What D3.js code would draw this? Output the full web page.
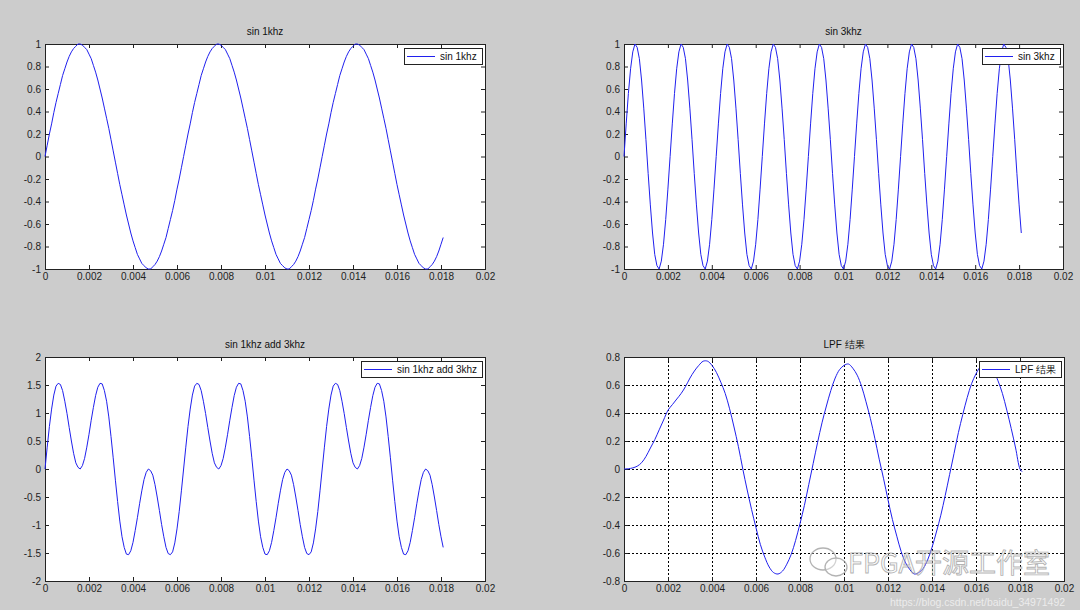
<!DOCTYPE html>
<html><head><meta charset="utf-8">
<script src="https://cdn.jsdelivr.net/npm/d3@7"></script>
<style>
body{margin:0;background:#cccccc;}
svg{display:block;font-family:"Liberation Sans",Arial,sans-serif;}
</style>
</head><body>
<svg id="c" width="1080" height="610"></svg>
<script>
// ---------------- data ----------------
const sampleStep = 0.0001;           // time step of the three input signals (s)
const sampleCount = 182;             // 0 .. 0.0181 s

const sin1k = [
0,.10,.20,.29,.39,.48,.56,.64,.72,.78,.84,.89,.93,.96,.98,1.00,1.00,.99,.97,.95,.91,.87,.81,.75,.68,.60,.52,.43,.34,.25,.15,.05,-.05,-.15,-.25,-.34,-.43,-.52,-.60,-.68,-.75,-.81,-.87,-.91,-.95,-.97,-.99,-1.00,-1.00,-.98,-.96,-.93,-.89,-.84,-.78,-.72,-.64,-.56,-.48,-.39,-.29,-.20,-.10,
0,.10,.20,.29,.39,.48,.56,.64,.72,.78,.84,.89,.93,.96,.98,1.00,1.00,.99,.97,.95,.91,.87,.81,.75,.68,.60,.52,.43,.34,.25,.15,.05,-.05,-.15,-.25,-.34,-.43,-.52,-.60,-.68,-.75,-.81,-.87,-.91,-.95,-.97,-.99,-1.00,-1.00,-.98,-.96,-.93,-.89,-.84,-.78,-.72,-.64,-.56,-.48,-.39,-.29,-.20,-.10,
0,.10,.20,.29,.39,.48,.56,.64,.72,.78,.84,.89,.93,.96,.98,1.00,1.00,.99,.97,.95,.91,.87,.81,.75,.68,.60,.52,.43,.34,.25,.15,.05,-.05,-.15,-.25,-.34,-.43,-.52,-.60,-.68,-.75,-.81,-.87,-.91,-.95,-.97,-.99,-1.00,-1.00,-.98,-.96,-.93,-.89,-.84,-.78,-.72
];

const sin3k = [
0,.29,.56,.78,.93,1.00,.97,.87,.68,.43,.15,-.15,-.43,-.68,-.87,-.97,-1.00,-.93,-.78,-.56,-.29,
0,.29,.56,.78,.93,1.00,.97,.87,.68,.43,.15,-.15,-.43,-.68,-.87,-.97,-1.00,-.93,-.78,-.56,-.29,
0,.29,.56,.78,.93,1.00,.97,.87,.68,.43,.15,-.15,-.43,-.68,-.87,-.97,-1.00,-.93,-.78,-.56,-.29,
0,.29,.56,.78,.93,1.00,.97,.87,.68,.43,.15,-.15,-.43,-.68,-.87,-.97,-1.00,-.93,-.78,-.56,-.29,
0,.29,.56,.78,.93,1.00,.97,.87,.68,.43,.15,-.15,-.43,-.68,-.87,-.97,-1.00,-.93,-.78,-.56,-.29,
0,.29,.56,.78,.93,1.00,.97,.87,.68,.43,.15,-.15,-.43,-.68,-.87,-.97,-1.00,-.93,-.78,-.56,-.29,
0,.29,.56,.78,.93,1.00,.97,.87,.68,.43,.15,-.15,-.43,-.68,-.87,-.97,-1.00,-.93,-.78,-.56,-.29,
0,.29,.56,.78,.93,1.00,.97,.87,.68,.43,.15,-.15,-.43,-.68,-.87,-.97,-1.00,-.93,-.78,-.56,-.29,
0,.29,.56,.78,.93,1.00,.97,.87,.68,.43,.15,-.15,-.43,-.68
];

const sinSum = [
0,.39,.76,1.07,1.32,1.48,1.53,1.51,1.40,1.21,.99,.74,.50,.28,.11,.03,0,.06,.19,.39,.62,.87,1.10,1.31,1.46,1.53,1.52,1.40,1.21,.93,.58,.20,-.20,-.58,-.93,-1.21,-1.40,-1.52,-1.53,-1.46,-1.31,-1.10,-.87,-.62,-.39,-.19,-.06,0,-.03,-.11,-.28,-.50,-.74,-.99,-1.21,-1.40,-1.51,-1.53,-1.48,-1.32,-1.07,-.76,-.39,
0,.39,.76,1.07,1.32,1.48,1.53,1.51,1.40,1.21,.99,.74,.50,.28,.11,.03,0,.06,.19,.39,.62,.87,1.10,1.31,1.46,1.53,1.52,1.40,1.21,.93,.58,.20,-.20,-.58,-.93,-1.21,-1.40,-1.52,-1.53,-1.46,-1.31,-1.10,-.87,-.62,-.39,-.19,-.06,0,-.03,-.11,-.28,-.50,-.74,-.99,-1.21,-1.40,-1.51,-1.53,-1.48,-1.32,-1.07,-.76,-.39,
0,.39,.76,1.07,1.32,1.48,1.53,1.51,1.40,1.21,.99,.74,.50,.28,.11,.03,0,.06,.19,.39,.62,.87,1.10,1.31,1.46,1.53,1.52,1.40,1.21,.93,.58,.20,-.20,-.58,-.93,-1.21,-1.40,-1.52,-1.53,-1.46,-1.31,-1.10,-.87,-.62,-.39,-.19,-.06,0,-.03,-.11,-.28,-.50,-.74,-.99,-1.21,-1.40
];

const lpfStep = 0.0002;
const lpfOut = [
0,.002,.008,.02,.045,.09,.15,.21,.28,.35,.42,.46,.50,.54,.59,.65,.70,.74,.77,.77,.74,.69,.62,.54,.43,.30,.16,
0,-.15,-.29,-.42,-.54,-.63,-.70,-.74,-.75,-.73,-.68,-.61,-.51,-.39,-.26,-.11,.04,.19,.33,.45,.56,
.65,.71,.74,.75,.72,.67,.59,.48,.36,.22,.07,-.07,-.22,-.36,-.48,-.59,-.67,-.72,-.75,-.74,
-.71,-.65,-.56,-.45,-.33,-.19,-.04,.11,.26,.39,.51,.61,.68,.73,.75,.74,.70,.63,.54,.42,.29,.15,0
];
const lpfLastTime = 0.0181, lpfLastValue = -0.02;

const xTicks = [0,0.002,0.004,0.006,0.008,0.01,0.012,0.014,0.016,0.018,0.02];
const yTicksSin = [-1,-0.8,-0.6,-0.4,-0.2,0,0.2,0.4,0.6,0.8,1];
const yTicksSum = [-2,-1.5,-1,-0.5,0,0.5,1,1.5,2];
const yTicksLpf = [-0.8,-0.6,-0.4,-0.2,0,0.2,0.4,0.6,0.8];
const titles = ["sin 1khz","sin 3khz","sin 1khz add 3khz","LPF 结果"];
const legendLabels = ["sin 1khz","sin 3khz","sin 1khz add 3khz","LPF 结果"];

// ---------------- drawing ----------------
const svg = d3.select("#c");
svg.append("rect").attr("width",1080).attr("height",610).attr("fill","#cccccc");

const sigTime = d3.range(sampleCount).map(i => i*sampleStep);
const lpfTime = d3.range(lpfOut.length).map(i => i*lpfStep).concat([lpfLastTime]);
const lpfVals = lpfOut.concat([lpfLastValue]);

const panels = [
 {l:45, r:485, t:44, b:269, yDom:[-1,1], yTicks:yTicksSin, time:sigTime, vals:sin1k, title:titles[0], leg:legendLabels[0], grid:false},
 {l:624, r:1063, t:44, b:269, yDom:[-1,1], yTicks:yTicksSin, time:sigTime, vals:sin3k, title:titles[1], leg:legendLabels[1], grid:false},
 {l:45, r:485, t:357, b:581, yDom:[-2,2], yTicks:yTicksSum, time:sigTime, vals:sinSum, title:titles[2], leg:legendLabels[2], grid:false},
 {l:624, r:1064, t:357, b:581, yDom:[-0.8,0.8], yTicks:yTicksLpf, time:lpfTime, vals:lpfVals, title:titles[3], leg:legendLabels[3], grid:true, smooth:true}
];

const fmt = v => String(+v.toFixed(4));
const axisColor = "#222";

panels.forEach(p => {
  const g = svg.append("g");
  const x = d3.scaleLinear().domain([0,0.02]).range([p.l,p.r]);
  const y = d3.scaleLinear().domain(p.yDom).range([p.b,p.t]);
  g.append("rect").attr("x",p.l).attr("y",p.t).attr("width",p.r-p.l).attr("height",p.b-p.t).attr("fill","#fff");

  if (p.grid) {
    const gg = g.append("g").attr("stroke","#000").attr("stroke-width",1).attr("stroke-dasharray","2,2");
    xTicks.slice(1,-1).forEach(v => gg.append("line").attr("x1",Math.round(x(v))+0.5).attr("x2",Math.round(x(v))+0.5).attr("y1",p.t).attr("y2",p.b));
    p.yTicks.slice(1,-1).forEach(v => gg.append("line").attr("y1",Math.round(y(v))+0.5).attr("y2",Math.round(y(v))+0.5).attr("x1",p.l).attr("x2",p.r));
  }

  const style = sel => {
    sel.select(".domain").remove();
    sel.selectAll("line").attr("stroke",axisColor);
    sel.selectAll("text").attr("fill","#222").style("font-size","10px").style("font-family",'"Liberation Sans",Arial,sans-serif');
  };
  g.append("g").attr("transform",`translate(0,${p.b})`)
    .call(d3.axisBottom(x).tickValues(xTicks).tickFormat(fmt).tickSizeInner(-4).tickSizeOuter(0).tickPadding(4)).call(style);
  g.append("g").attr("transform",`translate(0,${p.t})`)
    .call(d3.axisTop(x).tickValues(xTicks).tickFormat("").tickSizeInner(-4).tickSizeOuter(0)).call(style);
  g.append("g").attr("transform",`translate(${p.l},0)`)
    .call(d3.axisLeft(y).tickValues(p.yTicks).tickFormat(fmt).tickSizeInner(-4).tickSizeOuter(0).tickPadding(4)).call(style);
  g.append("g").attr("transform",`translate(${p.r},0)`)
    .call(d3.axisRight(y).tickValues(p.yTicks).tickFormat("").tickSizeInner(-4).tickSizeOuter(0)).call(style);

  g.append("rect").attr("x",p.l+0.5).attr("y",p.t+0.5).attr("width",p.r-p.l).attr("height",p.b-p.t)
    .attr("fill","none").attr("stroke",axisColor).attr("stroke-width",1);

  const line = d3.line().x((d,i)=>x(p.time[i])).y(d=>y(d)).curve(p.smooth ? d3.curveCatmullRom : d3.curveLinear);
  g.append("path").datum(p.vals).attr("d",line).attr("fill","none").attr("stroke","#2020ee").attr("stroke-width",1);

  g.append("text").attr("x",(p.l+p.r)/2).attr("y",p.t-9).attr("text-anchor","middle")
    .style("font-size","10px").attr("fill","#111").text(p.title);

  // legend
  const lg = g.append("g");
  const txt = lg.append("text").attr("y",p.t+15.5).style("font-size","10px").attr("fill","#111").text(p.leg);
  const tw = txt.node().getComputedTextLength();
  const bw = 3+28+5+tw+5, bx = p.r-3-bw, by = p.t+4;
  lg.insert("rect","text").attr("x",Math.round(bx)+0.5).attr("y",by+0.5).attr("width",Math.round(bw)).attr("height",16)
    .attr("fill","#fff").attr("stroke","#222");
  lg.append("line").attr("x1",Math.round(bx)+3).attr("x2",Math.round(bx)+31).attr("y1",by+8.5).attr("y2",by+8.5)
    .attr("stroke","#2020ee");
  txt.attr("x",Math.round(bx)+36);
});

// watermark
const wm = svg.append("g").attr("opacity",0.75);
wm.append("ellipse").attr("cx",823).attr("cy",559).attr("rx",13).attr("ry",11).attr("fill","rgba(255,255,255,0.4)").attr("stroke","#9a9a9a").attr("stroke-width",1.3);
wm.append("ellipse").attr("cx",836).attr("cy",567).attr("rx",11).attr("ry",9).attr("fill","rgba(255,255,255,0.4)").attr("stroke","#9a9a9a").attr("stroke-width",1.3);
wm.append("text").attr("x",848).attr("y",573).style("font-size","27px").style("font-family",'"Noto Sans CJK SC","Liberation Sans",sans-serif')
  .attr("fill","rgba(255,255,255,0.35)").attr("stroke","#9a9a9a").attr("stroke-width",0.9).text("FPGA开源工作室");
svg.append("text").attr("x",890).attr("y",606).style("font-size","10.5px").attr("fill","#f2f2f2").attr("opacity",0.85)
  .text("https://blog.csdn.net/baidu_34971492");
</script>
</body></html>
